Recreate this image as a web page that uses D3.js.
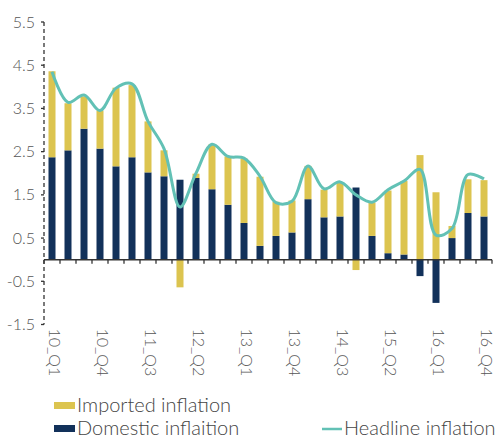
<!DOCTYPE html>
<html>
<head>
<meta charset="utf-8">
<script src="https://cdn.jsdelivr.net/npm/d3@7"></script>
<style>
  html, body { margin: 0; padding: 0; background: #fff; }
  svg { display: block; font-family: Lato, "Open Sans", sans-serif; font-weight: 300; }
</style>
</head>
<body>
<svg id="chart" width="499" height="438"></svg>
<script>
const quarters = [
  "10_Q1", "10_Q2", "10_Q3", "10_Q4", "11_Q1", "11_Q2", "11_Q3", "11_Q4",
  "12_Q1", "12_Q2", "12_Q3", "12_Q4", "13_Q1", "13_Q2", "13_Q3", "13_Q4",
  "14_Q1", "14_Q2", "14_Q3", "14_Q4", "15_Q1", "15_Q2", "15_Q3", "15_Q4",
  "16_Q1", "16_Q2", "16_Q3", "16_Q4"
];
const shownLabels = ["10_Q1", "10_Q4", "11_Q3", "12_Q2", "13_Q1", "13_Q4", "14_Q3", "15_Q2", "16_Q1", "16_Q4"];
const yTicks = [-1.5, -0.5, 0.5, 1.5, 2.5, 3.5, 4.5, 5.5];

const domestic = [2.37, 2.53, 3.03, 2.57, 2.16, 2.37, 2.02, 1.93, 1.85, 1.89, 1.63, 1.27, 0.85, 0.32,
  0.55, 0.63, 1.40, 0.98, 1.00, 1.67, 0.55, 0.15, 0.12, -0.38, -1.00, 0.50, 1.08, 1.00];
const imported = [1.99, 1.09, 0.75, 0.88, 1.82, 1.67, 1.18, 0.60, -0.64, 0.10, 1.04, 1.12, 1.49, 1.60,
  0.79, 0.74, 0.77, 0.64, 0.79, -0.24, 0.77, 1.45, 1.70, 2.42, 1.56, 0.28, 0.78, 0.84];
const headline = [4.35, 3.64, 3.81, 3.45, 3.97, 4.07, 3.20, 2.57, 1.22, 2.00, 2.67, 2.39, 2.35, 1.93,
  1.32, 1.35, 2.17, 1.64, 1.80, 1.50, 1.33, 1.62, 1.82, 2.09, 0.57, 0.72, 1.97, 1.87];

const colors = { imported: "#dcc44f", domestic: "#12315a", headline: "#62c1b5" };

const svg = d3.select("#chart");
const plotLeft = 44, plotRight = 492, plotTop = 22, plotBottom = 324.5;

const x = d3.scaleBand()
  .domain(quarters)
  .range([plotLeft, plotRight])
  .paddingInner(0.5625)
  .paddingOuter(0.28125);

const y = d3.scaleLinear()
  .domain([-1.5, 5.5])
  .range([plotBottom, plotTop]);

// stacked bars
const rows = quarters.map((q, i) => ({ q, domestic: domestic[i], imported: imported[i] }));
const stacked = d3.stack()
  .keys(["domestic", "imported"])
  .offset(d3.stackOffsetDiverging)(rows);

svg.append("g")
  .selectAll("g")
  .data(stacked)
  .join("g")
  .attr("fill", d => colors[d.key])
  .selectAll("rect")
  .data(d => d)
  .join("rect")
  .attr("x", d => x(d.data.q))
  .attr("width", x.bandwidth())
  .attr("y", d => y(Math.max(d[0], d[1])))
  .attr("height", d => Math.abs(y(d[0]) - y(d[1])));

// y axis: dashed line with small ticks
const yAxis = svg.append("g");
yAxis.append("line")
  .attr("x1", plotLeft).attr("x2", plotLeft)
  .attr("y1", plotTop).attr("y2", plotBottom)
  .attr("stroke", "#333")
  .attr("stroke-width", 1.3)
  .attr("stroke-dasharray", "4,3");
yAxis.selectAll("line.tick")
  .data(yTicks)
  .join("line")
  .attr("class", "tick")
  .attr("x1", plotLeft - 3).attr("x2", plotLeft)
  .attr("y1", d => y(d)).attr("y2", d => y(d))
  .attr("stroke", "#333")
  .attr("stroke-width", 1.3);
yAxis.selectAll("text")
  .data(yTicks)
  .join("text")
  .attr("x", 35)
  .attr("y", d => y(d))
  .attr("dy", "0.35em")
  .attr("text-anchor", "end")
  .attr("font-size", 16)
  .attr("fill", "#555")
  .text(d => d.toFixed(1));

// x axis at zero
const xAxis = svg.append("g").attr("transform", `translate(0,${y(0)})`);
xAxis.append("line")
  .attr("x1", plotLeft).attr("x2", plotRight)
  .attr("stroke", "#333")
  .attr("stroke-width", 1.5);
xAxis.selectAll("line.tick")
  .data(quarters.concat(["end"]))
  .join("line")
  .attr("class", "tick")
  .attr("x1", (d, i) => plotLeft + x.step() * i)
  .attr("x2", (d, i) => plotLeft + x.step() * i)
  .attr("y1", 0).attr("y2", 4)
  .attr("stroke", "#333")
  .attr("stroke-width", 1.3);

svg.append("g")
  .selectAll("text")
  .data(shownLabels)
  .join("text")
  .attr("transform", d => `translate(${x(d) + x.bandwidth() / 2 + 3},${plotBottom + 4}) rotate(90)`)
  .attr("dy", "0.35em")
  .attr("font-size", 16)
  .attr("fill", "#555")
  .text(d => d);

// headline line
const line = d3.line()
  .x((d, i) => x(quarters[i]) + x.bandwidth() / 2)
  .y(d => y(d))
  .curve(d3.curveCatmullRom.alpha(0.5));

svg.append("path")
  .datum(headline)
  .attr("fill", "none")
  .attr("stroke", colors.headline)
  .attr("stroke-width", 3)
  .attr("d", line);

// legend
const legend = svg.append("g").attr("font-size", 20).attr("fill", "#444");
legend.append("rect").attr("x", 54).attr("y", 402).attr("width", 21).attr("height", 7).attr("fill", colors.imported);
legend.append("text").attr("x", 77).attr("y", 411.5).text("Imported inflation");
legend.append("rect").attr("x", 54).attr("y", 425).attr("width", 21).attr("height", 7).attr("fill", colors.domestic);
legend.append("text").attr("x", 77).attr("y", 435).text("Domestic inflaition");
legend.append("line").attr("x1", 322).attr("x2", 342).attr("y1", 429).attr("y2", 429)
  .attr("stroke", colors.headline).attr("stroke-width", 2.5);
legend.append("text").attr("x", 344).attr("y", 435).text("Headline inflation");
</script>
</body>
</html>
